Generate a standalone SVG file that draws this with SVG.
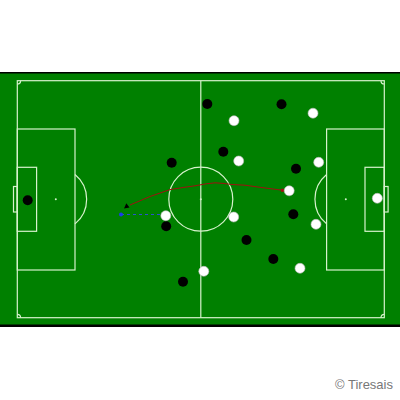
<svg xmlns="http://www.w3.org/2000/svg" width="400" height="400" viewBox="0 0 400 400">
<style>
.ln{fill:none;stroke:#d6f2cc;stroke-width:1.2}
.bk{fill:#000}
.wh{fill:#fff;stroke:#bbb;stroke-width:0.6}
</style>
<rect x="0" y="0" width="400" height="400" fill="#fff"/>
<rect x="0" y="72" width="400" height="255" fill="#000"/>
<rect x="0" y="73.5" width="400" height="251" fill="#008000"/>
<g id="pitch">
<rect class="ln" x="17.3" y="80.7" width="367" height="237"/>
<line class="ln" x1="200.8" y1="80.7" x2="200.8" y2="317.7"/>
<circle class="ln" cx="200.8" cy="199.2" r="32"/>
<circle cx="200.8" cy="199.2" r="1" fill="#d6f2cc"/>
<rect class="ln" x="17.3" y="129" width="57.7" height="141"/>
<rect class="ln" x="17.3" y="167.3" width="19.3" height="64"/>
<rect class="ln" x="13.5" y="186.5" width="3.8" height="25.5"/>
<circle cx="55.8" cy="199.2" r="1" fill="#d6f2cc"/>
<path class="ln" d="M75 174.5 A32 32 0 0 1 75 223.9"/>
<rect class="ln" x="326.6" y="129" width="57.7" height="141"/>
<rect class="ln" x="365" y="167.3" width="19.3" height="64"/>
<rect class="ln" x="384.3" y="186.5" width="3.8" height="25.5"/>
<circle cx="345.8" cy="199.2" r="1" fill="#d6f2cc"/>
<path class="ln" d="M326.6 174.5 A32 32 0 0 0 326.6 223.9"/>
<path class="ln" d="M17.3 84 A3.3 3.3 0 0 0 20.6 80.7"/>
<path class="ln" d="M381 80.7 A3.3 3.3 0 0 0 384.3 84"/>
<path class="ln" d="M17.3 314.4 A3.3 3.3 0 0 1 20.6 317.7"/>
<path class="ln" d="M381 317.7 A3.3 3.3 0 0 1 384.3 314.4"/>
</g>
<g id="connectors">
<polyline fill="none" stroke="#a01010" stroke-width="1" points="283,190.3 270,188.6 260,187.3 245,185.2 232,184.5 223,183.4 215,182.8 205,184 195,185.8 185,187.2 170,189.6 150,196.5 130,205"/>
<rect x="281" y="188.8" width="3" height="3" fill="#a01010"/>
<polygon points="124,208.5 129.5,207.5 126.3,203.3" fill="#000"/>
<line x1="121" y1="214.5" x2="161" y2="214.5" stroke="#2a4fd0" stroke-width="1" stroke-dasharray="3,3"/>
<circle cx="121" cy="214.5" r="2" fill="#1a3af0"/>
</g>
<g id="black-team">
<circle class="bk" cx="27.7" cy="200.3" r="5"/>
<circle class="bk" cx="207.3" cy="104" r="5"/>
<circle class="bk" cx="281.5" cy="104.3" r="5"/>
<circle class="bk" cx="223.3" cy="151.7" r="5"/>
<circle class="bk" cx="171.7" cy="162.7" r="5"/>
<circle class="bk" cx="296" cy="168.7" r="5"/>
<circle class="bk" cx="166.2" cy="226.3" r="5"/>
<circle class="bk" cx="293.3" cy="214.3" r="5"/>
<circle class="bk" cx="246.5" cy="240" r="5"/>
<circle class="bk" cx="273.3" cy="259" r="5"/>
<circle class="bk" cx="183" cy="281.7" r="5"/>
</g>
<g id="white-team">
<circle class="wh" cx="313" cy="113.2" r="5"/>
<circle class="wh" cx="234" cy="120.7" r="5"/>
<circle class="wh" cx="238.7" cy="161" r="5"/>
<circle class="wh" cx="318.7" cy="162.3" r="5"/>
<circle class="wh" cx="289.2" cy="190.8" r="5"/>
<circle class="wh" cx="377.3" cy="198.3" r="5"/>
<circle class="wh" cx="165.8" cy="215.7" r="5"/>
<circle class="wh" cx="233.7" cy="217" r="5"/>
<circle class="wh" cx="316" cy="224.3" r="5"/>
<circle class="wh" cx="300" cy="268.3" r="5"/>
<circle class="wh" cx="203.8" cy="271.3" r="5"/>
</g>
<text x="335" y="389" font-family="Liberation Sans, Arial, sans-serif" font-size="13" fill="#777">© Tiresais</text>
</svg>
